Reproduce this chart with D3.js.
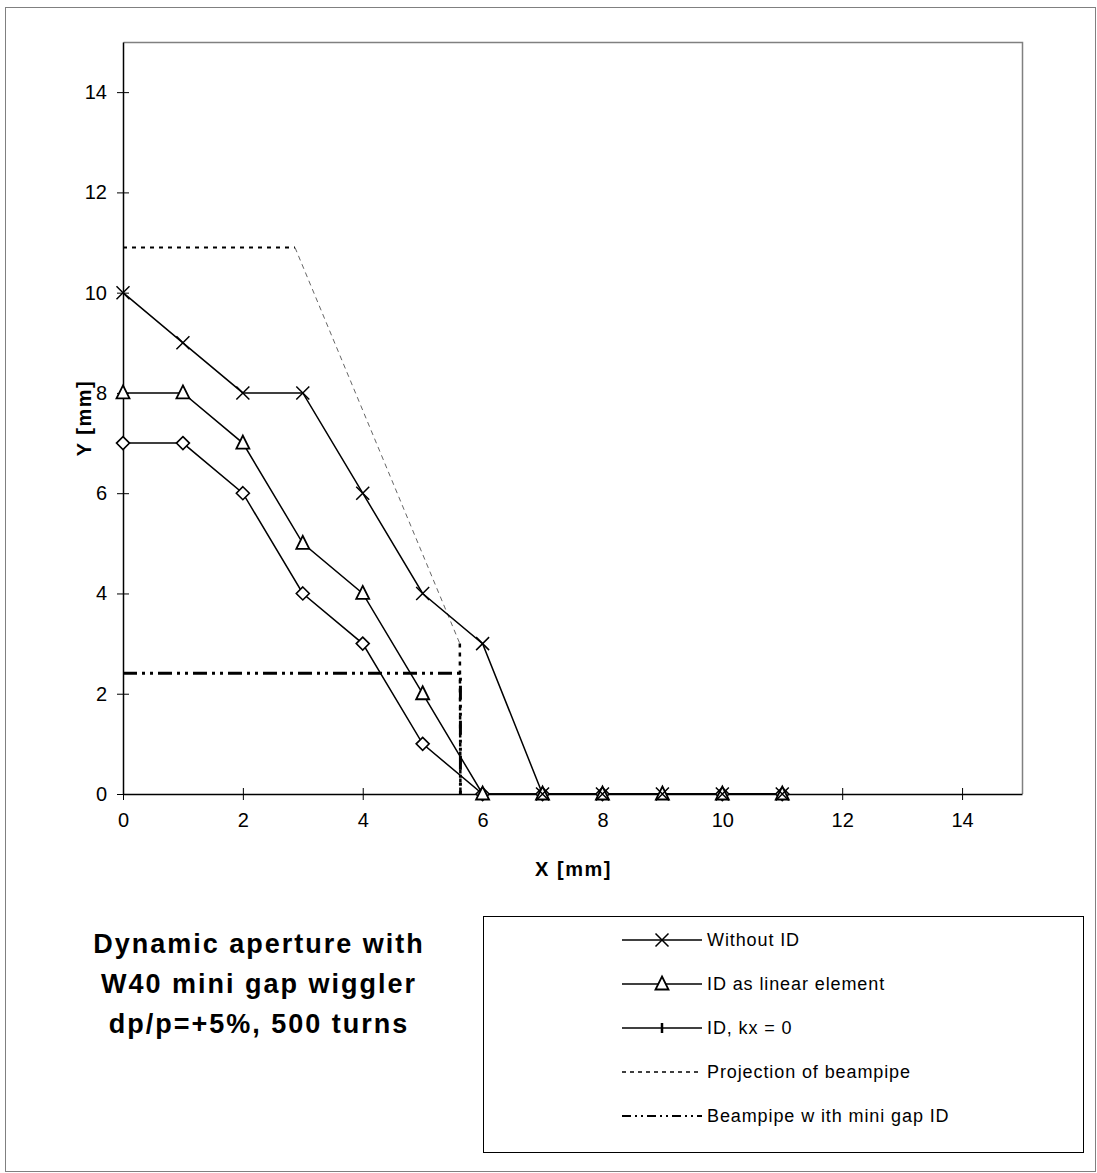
<!DOCTYPE html>
<html>
<head>
<meta charset="utf-8">
<script src="https://cdn.jsdelivr.net/npm/d3@7"></script>
<style>
  body { margin: 0; background: #fff; }
  svg text { font-family: "Liberation Sans", Arial, sans-serif; fill: #000; }
</style>
</head>
<body>
<svg id="chart"></svg>
<script>
// data
const xWithout = [0, 1, 2, 3, 4, 5, 6, 7, 8, 9, 10, 11];
const yWithout = [10, 9, 8, 8, 6, 4, 3, 0, 0, 0, 0, 0];
const xLinear = [0, 1, 2, 3, 4, 5, 6, 7, 8, 9, 10, 11];
const yLinear = [8, 8, 7, 5, 4, 2, 0, 0, 0, 0, 0, 0];
const xKx0 = [0, 1, 2, 3, 4, 5, 6, 7, 8, 10, 11];
const yKx0 = [7, 7, 6, 4, 3, 1, 0, 0, 0, 0, 0];
const xProjection = [0, 2.87, 5.62, 5.63];
const yProjection = [10.9, 10.9, 3.0, 0];
const xBeampipe = [0, 5.63, 5.63];
const yBeampipe = [2.41, 2.41, 0];
const xTicks = [0, 2, 4, 6, 8, 10, 12, 14];
const yTicks = [0, 2, 4, 6, 8, 10, 12, 14];
const legendLabels = ["Without ID", "ID as linear element", "ID, kx = 0", "Projection of beampipe", "Beampipe w ith mini gap ID"];
const titleLines = ["Dynamic aperture with", "W40 mini gap wiggler", "dp/p=+5%, 500 turns"];

const W = 1097, H = 1173;
const margin = {top: 42, left: 123, right: 75, bottom: 379};
const width = W - margin.left - margin.right;
const height = H - margin.top - margin.bottom;

const svg = d3.select('#chart').attr('width', W).attr('height', H);

// outer frame
svg.append('rect')
  .attr('x', 5.5).attr('y', 7.5)
  .attr('width', W - 7).attr('height', H - 9)
  .attr('fill', 'none').attr('stroke', '#808080').attr('stroke-width', 1);

const chart = svg.append('g').attr('transform', `translate(${margin.left},${margin.top})`);

const xScale = d3.scaleLinear().domain([0, 15]).range([0, width]);
const yScale = d3.scaleLinear().domain([0, 15]).range([height, 0]);

// plot area border (top/right grey)
chart.append('path')
  .attr('d', `M0.5,0.5H${width + 0.5}V${height}`)
  .attr('fill', 'none').attr('stroke', '#808080').attr('stroke-width', 1.5);

// axes
const xAxis = d3.axisBottom(xScale).tickValues(xTicks).tickSizeInner(6).tickSizeOuter(0).tickPadding(13);
const yAxis = d3.axisLeft(yScale).tickValues(yTicks).tickSizeInner(6).tickSizeOuter(0).tickPadding(10);

const xAxisG = chart.append('g').attr('transform', `translate(0,${height})`).call(xAxis);
const yAxisG = chart.append('g').call(yAxis);
[xAxisG, yAxisG].forEach(g => {
  g.select('.domain').attr('stroke', '#000').attr('stroke-width', 1.5);
  g.selectAll('.tick line').attr('stroke', '#000').attr('stroke-width', 1);
  g.selectAll('.tick text')
    .style('font-size', '20px')
    .style('font-family', '"Liberation Sans", Arial, sans-serif');
});
// ticks cross the axis line
xAxisG.selectAll('.tick line').attr('y1', -6);
yAxisG.selectAll('.tick line').attr('x1', 6);

chart.append('text')
  .attr('x', width / 2 + 1).attr('y', height + 82)
  .attr('text-anchor', 'middle')
  .style('font-size', '20px').style('font-weight', 'bold').style('letter-spacing', '1.5px')
  .text('X [mm]');

chart.append('text')
  .attr('transform', `translate(-32,${yScale(7.5)}) rotate(-90)`)
  .attr('text-anchor', 'middle')
  .style('font-size', '20px').style('font-weight', 'bold').style('letter-spacing', '1.5px')
  .text('Y [mm]');

const line = d3.line().x(d => xScale(d[0])).y(d => yScale(d[1]));
const zip = (xs, ys) => xs.map((x, i) => [x, ys[i]]);

// beampipe with mini gap ID (dash-dot-dot)
chart.append('path')
  .datum(zip(xBeampipe, yBeampipe))
  .attr('d', line)
  .attr('fill', 'none').attr('stroke', '#000').attr('stroke-width', 3)
  .attr('stroke-dasharray', '14,5,3,5,3,5');

// projection of beampipe (dotted)
const proj = zip(xProjection, yProjection);
chart.append('path')
  .datum(proj.slice(0, 2))
  .attr('d', line)
  .attr('fill', 'none').attr('stroke', '#000').attr('stroke-width', 2)
  .attr('stroke-dasharray', '4,5');
chart.append('path')
  .datum(proj.slice(1, 3))
  .attr('d', line)
  .attr('fill', 'none').attr('stroke', '#666').attr('stroke-width', 1)
  .attr('stroke-dasharray', '5,4');
chart.append('path')
  .datum(proj.slice(2))
  .attr('d', line)
  .attr('fill', 'none').attr('stroke', '#000').attr('stroke-width', 2.5)
  .attr('stroke-dasharray', '4,5');

const series = [
  {data: zip(xKx0, yKx0), marker: 'diamond'},
  {data: zip(xLinear, yLinear), marker: 'triangle'},
  {data: zip(xWithout, yWithout), marker: 'cross'}
];

function drawMarker(g, type, cx, cy) {
  const s = 6.5;
  if (type === 'cross') {
    g.append('path')
      .attr('d', `M${cx - s},${cy - s}L${cx + s},${cy + s}M${cx - s},${cy + s}L${cx + s},${cy - s}`)
      .attr('stroke', '#000').attr('stroke-width', 1.5).attr('fill', 'none');
  } else if (type === 'triangle') {
    g.append('path')
      .attr('d', `M${cx},${cy - s - 1}L${cx + s},${cy + s - 1}L${cx - s},${cy + s - 1}Z`)
      .attr('stroke', '#000').attr('stroke-width', 1.8).attr('fill', '#fff');
  } else if (type === 'diamond') {
    g.append('path')
      .attr('d', `M${cx},${cy - s}L${cx + s},${cy}L${cx},${cy + s}L${cx - s},${cy}Z`)
      .attr('stroke', '#000').attr('stroke-width', 1.6).attr('fill', '#fff');
  } else if (type === 'bar') {
    g.append('path')
      .attr('d', `M${cx},${cy - 5}V${cy + 5}`)
      .attr('stroke', '#000').attr('stroke-width', 2.5);
  }
}

series.forEach(s => {
  chart.append('path')
    .datum(s.data)
    .attr('d', line)
    .attr('fill', 'none').attr('stroke', '#000').attr('stroke-width', 1.5);
});
series.forEach(s => {
  const g = chart.append('g');
  s.data.forEach(d => drawMarker(g, s.marker, xScale(d[0]), yScale(d[1])));
});

// title
const title = svg.append('text')
  .attr('x', 259).attr('y', 953)
  .attr('text-anchor', 'middle')
  .style('font-size', '27px').style('font-weight', 'bold').style('letter-spacing', '2px');
titleLines.forEach((t, i) => {
  title.append('tspan').attr('x', 259).attr('dy', i === 0 ? 0 : 40).text(t);
});

// legend
const legend = svg.append('g');
legend.append('rect')
  .attr('x', 483.5).attr('y', 916.5).attr('width', 600).attr('height', 236)
  .attr('fill', '#fff').attr('stroke', '#000').attr('stroke-width', 1);

const legendStyles = [
  {marker: 'cross', dash: null, w: 1.5},
  {marker: 'triangle', dash: null, w: 1.5},
  {marker: 'bar', dash: null, w: 1.5},
  {marker: null, dash: '4,4', w: 1.5},
  {marker: null, dash: '9,4,2,4,2,4', w: 2}
];
legendLabels.forEach((label, i) => {
  const y = 940 + i * 44;
  const row = legend.append('g');
  row.append('line')
    .attr('x1', 622).attr('x2', 702).attr('y1', y).attr('y2', y)
    .attr('stroke', '#000').attr('stroke-width', legendStyles[i].w)
    .attr('stroke-dasharray', legendStyles[i].dash);
  if (legendStyles[i].marker) drawMarker(row, legendStyles[i].marker, 662, y);
  row.append('text')
    .attr('x', 707).attr('y', y + 6)
    .style('font-size', '18px').style('letter-spacing', '0.9px')
    .text(label);
});
</script>
</body>
</html>
